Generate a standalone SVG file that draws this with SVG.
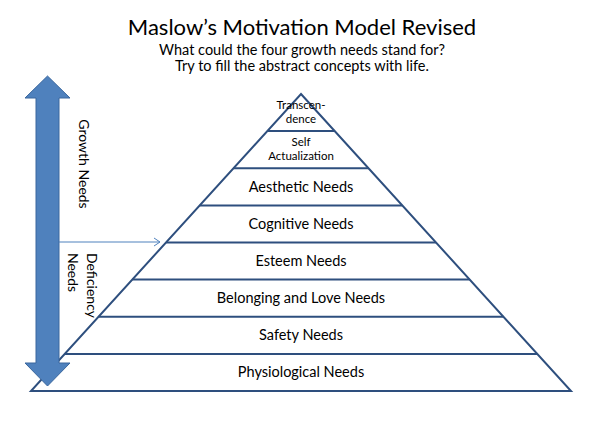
<svg xmlns="http://www.w3.org/2000/svg" width="598" height="428" viewBox="0 0 598 428">
<defs>
<style>
text{font-family:Lato,"Open Sans",sans-serif;fill:#000;text-anchor:middle}
.t{font-size:22px}
.s{font-size:14.5px}
.l{font-size:14.5px}
.sm{font-size:11.5px}
.side{font-size:14px}
.edge{stroke:#2E4F7E;stroke-width:2;fill:none}
</style>
<marker id="ah" markerWidth="10" markerHeight="10" refX="9" refY="5" orient="auto" markerUnits="userSpaceOnUse">
<path d="M3,1 L9,5 L3,9" fill="none" stroke="#4F81BD" stroke-width="1"/>
</marker>
</defs>
<rect width="598" height="428" fill="#fff"/>
<g id="title">
<text class="t" x="302" y="35">Maslow’s Motivation Model Revised</text>
<text class="s" x="302" y="55">What could the four growth needs stand for?</text>
<text class="s" x="302" y="71">Try to fill the abstract concepts with life.</text>
</g>
<g id="pyramid-outline">
<path class="edge" d="M301,94 L571,391 L31,391 Z"/>
</g>
<g id="transcendence">
<text class="sm" x="301" y="109">Transcen-</text>
<text class="sm" x="301" y="123">dence</text>
</g>
<g id="self-actualization">
<line class="edge" x1="267.3" y1="131.1" x2="334.7" y2="131.1"/>
<text class="sm" x="301" y="146">Self</text>
<text class="sm" x="301" y="160">Actualization</text>
</g>
<g id="aesthetic">
<line class="edge" x1="233.6" y1="168.3" x2="368.4" y2="168.3"/>
<text class="l" x="301" y="192">Aesthetic Needs</text>
</g>
<g id="cognitive">
<line class="edge" x1="199.8" y1="205.4" x2="402.2" y2="205.4"/>
<text class="l" x="301" y="229">Cognitive Needs</text>
</g>
<g id="esteem">
<line class="edge" x1="166.1" y1="242.5" x2="435.9" y2="242.5"/>
<text class="l" x="301" y="266">Esteem Needs</text>
</g>
<g id="belonging">
<line class="edge" x1="132.4" y1="279.6" x2="469.6" y2="279.6"/>
<text class="l" x="301" y="303">Belonging and Love Needs</text>
</g>
<g id="safety">
<line class="edge" x1="98.6" y1="316.8" x2="503.4" y2="316.8"/>
<text class="l" x="301" y="340">Safety Needs</text>
</g>
<g id="physiological">
<line class="edge" x1="64.9" y1="353.9" x2="537.1" y2="353.9"/>
<text class="l" x="301" y="377">Physiological Needs</text>
</g>
<g id="double-arrow">
<path d="M47.5,76 L70,98 L59,98 L59,363 L70,363 L47.5,386 L25,363 L36,363 L36,98 L25,98 Z" fill="#4F81BD" stroke="#3A679E" stroke-width="1"/>
</g>
<g id="growth-label">
<text class="side" transform="translate(78.5,164) rotate(90)">Growth Needs</text>
</g>
<g id="deficiency-label">
<text class="side" transform="translate(86.5,253) rotate(90)" style="text-anchor:start">Deficiency</text>
<text class="side" transform="translate(68,253) rotate(90)" style="text-anchor:start">Needs</text>
</g>
<g id="connectors">
<line x1="59" y1="242" x2="160" y2="242" stroke="#4F81BD" stroke-width="1" marker-end="url(#ah)"/>
</g>
</svg>
